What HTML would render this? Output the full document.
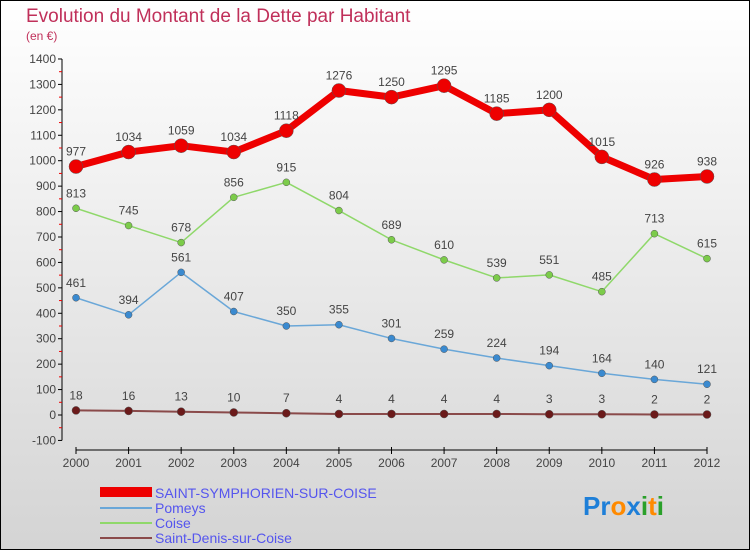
<!DOCTYPE html>
<html><head><meta charset="utf-8"><style>
body{margin:0}
svg{display:block;font-family:"Liberation Sans",sans-serif}
</style></head><body>
<svg id="c" width="750" height="550" xmlns="http://www.w3.org/2000/svg">
<defs><linearGradient id="bg" x1="0" y1="0" x2="0" y2="1"><stop offset="0" stop-color="#ffffff"/><stop offset="1" stop-color="#d4d4d4"/></linearGradient></defs>
<rect x="0.5" y="0.5" width="749" height="549" fill="url(#bg)" stroke="#000"/>
<text x="26" y="22" font-size="19" fill="#c0305a">Evolution du Montant de la Dette par Habitant</text>
<text x="26" y="40" font-size="12" fill="#c0305a">(en €)</text>
<g id="axes"></g><g id="series"></g>
<g>
<rect x="100" y="487" width="52" height="10" fill="#e00"/>
<text x="155" y="498" font-size="14" fill="#5555ee">SAINT-SYMPHORIEN-SUR-COISE</text>
<line x1="100" y1="508" x2="152" y2="508" stroke="#6aa7d8" stroke-width="2"/>
<text x="155" y="513" font-size="14" fill="#5555ee">Pomeys</text>
<line x1="100" y1="523" x2="152" y2="523" stroke="#8fd86a" stroke-width="2"/>
<text x="155" y="528" font-size="14" fill="#5555ee">Coise</text>
<line x1="100" y1="538" x2="152" y2="538" stroke="#8a4a4a" stroke-width="2"/>
<text x="155" y="543" font-size="14" fill="#5555ee">Saint-Denis-sur-Coise</text>
</g>
<text x="583" y="515" font-size="26" font-weight="bold"><tspan fill="#1e7fd8">Pr</tspan><tspan fill="#ff8a00">o</tspan><tspan fill="#1e7fd8">x</tspan><tspan fill="#2aa02a">i</tspan><tspan fill="#ff8a00">t</tspan><tspan fill="#2aa02a">i</tspan></text>
</svg>
<script>
const years=[2000,2001,2002,2003,2004,2005,2006,2007,2008,2009,2010,2011,2012];
const stSymphorien=[977,1034,1059,1034,1118,1276,1250,1295,1185,1200,1015,926,938];
const pomeys=[461,394,561,407,350,355,301,259,224,194,164,140,121];
const coise=[813,745,678,856,915,804,689,610,539,551,485,713,615];
const stDenis=[18,16,13,10,7,4,4,4,4,3,3,2,2];
const yTicks=[-100,0,100,200,300,400,500,600,700,800,900,1000,1100,1200,1300,1400];
const NS="http://www.w3.org/2000/svg";
const x=i=>76+i*(707-76)/(years.length-1);
const y=v=>415-v*0.2543;
function mk(tag,attrs,parent){const e=document.createElementNS(NS,tag);for(const k in attrs)e.setAttribute(k,attrs[k]);parent.appendChild(e);return e;}
const ax=document.getElementById('axes');
const ya=mk('line',{x1:62,y1:y(1400),x2:62,y2:y(-100),stroke:'#000'},ax);


yTicks.forEach((t,k)=>{
 mk('line',{x1:58,y1:y(t),x2:62,y2:y(t),stroke:'#000'},ax);
 if(k<yTicks.length-1) mk('line',{x1:59,y1:y(t+50),x2:62,y2:y(t+50),stroke:'#e00'},ax);
 const tx=mk('text',{x:56,y:y(t)+4,'font-size':12,fill:'#444','text-anchor':'end'},ax);
 tx.textContent=t;
 
 
});
const xa=mk('line',{x1:76,y1:450,x2:707,y2:450,stroke:'#000'},ax);


years.forEach((yr,i)=>{
 mk('line',{x1:x(i),y1:447,x2:x(i),y2:454,stroke:'#000'},ax);
 const tx=mk('text',{x:x(i),y:467,'font-size':12,fill:'#444','text-anchor':'middle'},ax);
 tx.textContent=yr;
 
 
});
const sg=document.getElementById('series');
function draw(vals,color,w,r,name,ptColor){
 const g=mk('g',{},sg);
 
 
 const pl=mk('polyline',{points:vals.map((v,i)=>x(i)+','+y(v)).join(' '),fill:'none',stroke:color,'stroke-width':w,'stroke-linejoin':'round'},g);
 
 
 vals.forEach((v,i)=>{
  const c=mk('circle',{cx:x(i),cy:y(v),r:r,fill:ptColor,stroke:'#555','stroke-width':0.5},g);
  
  
  const t=mk('text',{x:x(i),y:y(v)-11,'font-size':12,fill:'#444','text-anchor':'middle'},g);
  t.textContent=v;
  
  
 });
}
draw(stDenis,'#8a4a4a',2,4,'saint-denis','#6b1a1a');
draw(pomeys,'#6aa7d8',1.5,3.5,'pomeys','#3a8ad0');
draw(coise,'#8fd86a',1.5,3.5,'coise','#7ccc4a');
draw(stSymphorien,'#e00',7,7,'saint-symphorien','#e00');
</script>
</body></html>
